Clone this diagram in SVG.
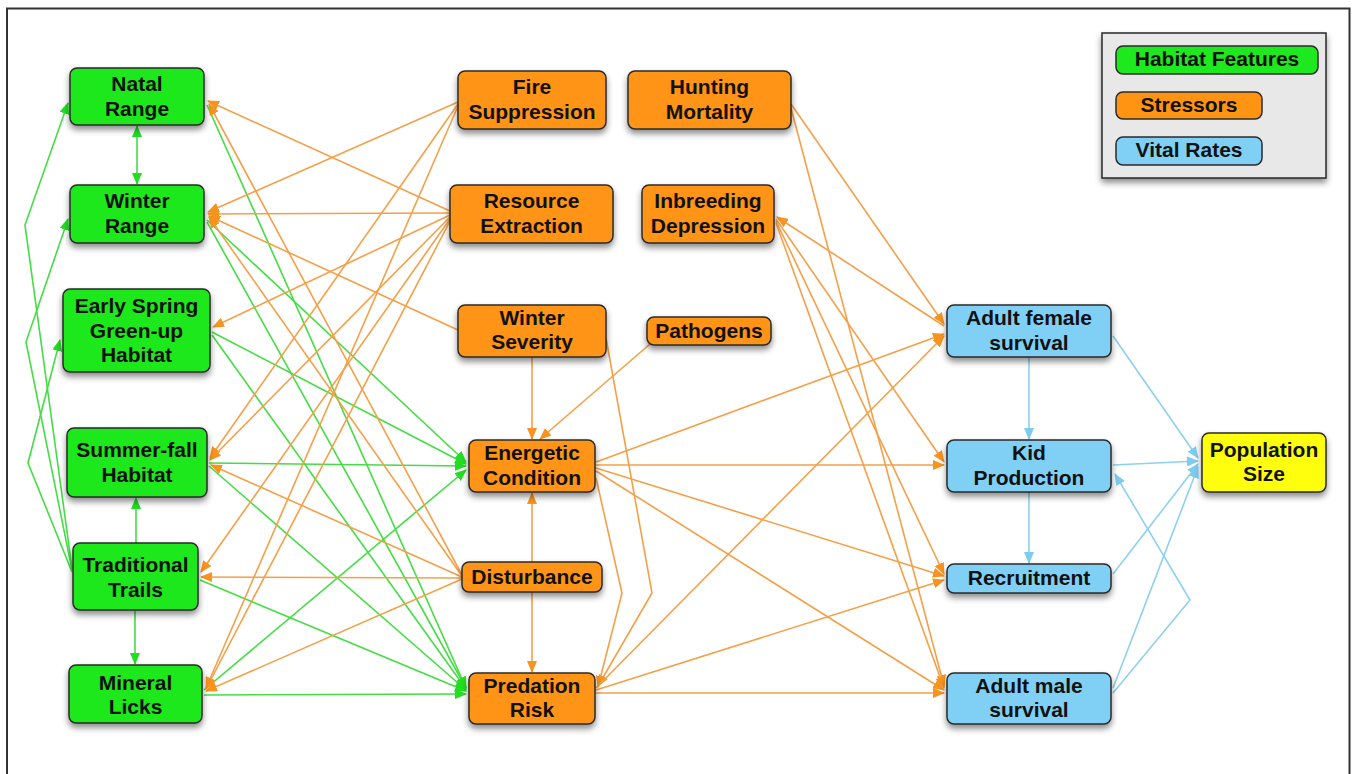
<svg xmlns="http://www.w3.org/2000/svg" width="1352" height="774" viewBox="0 0 1352 774">
<defs>
<filter id="sh" x="-20%" y="-20%" width="140%" height="170%"><feDropShadow dx="0" dy="4" stdDeviation="3" flood-color="#000" flood-opacity="0.45"/></filter>
<marker id="ao" viewBox="0 0 12 10" markerWidth="12" markerHeight="10" refX="11" refY="5" orient="auto-start-reverse" markerUnits="userSpaceOnUse"><path d="M0,0L12,5L0,10z" fill="#f7931e"/></marker>
<marker id="ag" viewBox="0 0 12 10" markerWidth="12" markerHeight="10" refX="11" refY="5" orient="auto-start-reverse" markerUnits="userSpaceOnUse"><path d="M0,0L12,5L0,10z" fill="#22dd22"/></marker>
<marker id="ab" viewBox="0 0 12 10" markerWidth="12" markerHeight="10" refX="11" refY="5" orient="auto-start-reverse" markerUnits="userSpaceOnUse"><path d="M0,0L12,5L0,10z" fill="#7ccbf0"/></marker>
</defs>
<style>
.n rect{stroke:#2a2a2a;stroke-width:1.5;filter:url(#sh)}
.g rect{fill:#1ee81e}
.o rect{fill:#ff9412}
.b rect{fill:#80cff5}
.y rect{fill:#ffff10}
text{font-family:"Liberation Sans",Arial,sans-serif;font-weight:bold;font-size:21px;fill:#111;text-anchor:middle}
.eo{stroke:#f4a048;stroke-width:1.6;fill:none;marker-end:url(#ao)}
.eg{stroke:#44dd44;stroke-width:1.6;fill:none;marker-end:url(#ag)}
.eb{stroke:#8dd0f2;stroke-width:1.6;fill:none;marker-end:url(#ab)}
</style>
<rect width="1352" height="774" fill="#ffffff"/>
<path d="M7,774 L7,8.5 L1349.5,8.5 L1349.5,774" fill="none" stroke="#333" stroke-width="2"/>

<g id="connectors">
<!-- green habitat -> energetic / predation -->
<path class="eg" d="M207,105 L466,688"/>
<path class="eg" d="M207,220 L466,462"/>
<path class="eg" d="M207,222 L466,688"/>
<path class="eg" d="M212,332 L466,464"/>
<path class="eg" d="M212,335 L466,689"/>
<path class="eg" d="M209,463 L466,466"/>
<path class="eg" d="M209,466 L466,690"/>
<path class="eg" d="M200,580 L466,691"/>
<path class="eg" d="M204,690 L466,470"/>
<path class="eg" d="M204,695 L466,694"/>
<!-- green left margin -->
<path class="eg" d="M72,568 L25,225 L68,103"/>
<path class="eg" d="M72,570 L26,342 L68,219"/>
<path class="eg" d="M72,572 L28,463 L60,340"/>
<path class="eg" d="M136,543 L136,498"/>
<path class="eg" d="M135,611 L135,664"/>
<path class="eg" d="M137,126 L137,184" marker-start="url(#ag)"/>
<!-- orange stressors -> habitat -->
<path class="eo" d="M458,102 L208,212"/>
<path class="eo" d="M458,104 L210,458"/>
<path class="eo" d="M458,106 L206,688"/>
<path class="eo" d="M450,211 L208,101"/>
<path class="eo" d="M450,213 L208,214"/>
<path class="eo" d="M450,215 L213,327"/>
<path class="eo" d="M450,217 L210,460"/>
<path class="eo" d="M450,219 L201,572"/>
<path class="eo" d="M450,221 L206,689"/>
<path class="eo" d="M458,330 L209,216"/>
<path class="eo" d="M462,575 L209,104"/>
<path class="eo" d="M462,576 L209,217"/>
<path class="eo" d="M462,577 L211,465"/>
<path class="eo" d="M462,578 L201,577"/>
<path class="eo" d="M462,579 L206,691"/>
<!-- orange among stressors -->
<path class="eo" d="M532,357 L532,439"/>
<path class="eo" d="M650,344 L540,439"/>
<path class="eo" d="M532,562 L532,493"/>
<path class="eo" d="M532,592 L532,672"/>
<path class="eo" d="M606,338 L652,593 L598,686"/>
<path class="eo" d="M596,478 L622,593 L598,687"/>
<!-- orange -> vital rates -->
<path class="eo" d="M791,104 L944,324"/>
<path class="eo" d="M791,108 L944,686"/>
<path class="eo" d="M944,326 L777,217"/>
<path class="eo" d="M776,219 L944,462"/>
<path class="eo" d="M776,221 L944,574"/>
<path class="eo" d="M776,223 L944,688"/>
<path class="eo" d="M596,462 L944,334"/>
<path class="eo" d="M596,465 L944,465"/>
<path class="eo" d="M596,468 L944,576"/>
<path class="eo" d="M596,471 L944,690"/>
<path class="eo" d="M596,688 L944,336"/>
<path class="eo" d="M596,690 L944,580"/>
<path class="eo" d="M596,693 L944,693"/>
<!-- blue -->
<path class="eb" d="M1029,357 L1029,439"/>
<path class="eb" d="M1029,492 L1029,563"/>
<path class="eb" d="M1113,336 L1198,458"/>
<path class="eb" d="M1113,465 L1198,461"/>
<path class="eb" d="M1113,574 L1198,464"/>
<path class="eb" d="M1113,688 L1198,467"/>
<path class="eb" d="M1113,693 L1190,600 L1115,474"/>
</g>

<g id="natal" class="n g"><rect x="70" y="68" width="134" height="57" rx="7"/><text x="137" y="91">Natal</text><text x="137" y="116">Range</text></g>
<g id="winter" class="n g"><rect x="70" y="185" width="134" height="58" rx="7"/><text x="137" y="208">Winter</text><text x="137" y="233">Range</text></g>
<g id="earlyspring" class="n g"><rect x="63" y="289" width="147" height="83" rx="7"/><text x="136.5" y="313">Early Spring</text><text x="136.5" y="338">Green-up</text><text x="136.5" y="362">Habitat</text></g>
<g id="summerfall" class="n g"><rect x="67" y="428" width="140" height="69" rx="7"/><text x="137" y="457">Summer-fall</text><text x="137" y="482">Habitat</text></g>
<g id="trails" class="n g"><rect x="73" y="543" width="125" height="67" rx="7"/><text x="135.5" y="572">Traditional</text><text x="135.5" y="597">Trails</text></g>
<g id="licks" class="n g"><rect x="69" y="665" width="133" height="58" rx="7"/><text x="135.5" y="690">Mineral</text><text x="135.5" y="714">Licks</text></g>

<g id="fire" class="n o"><rect x="458" y="71" width="148" height="58" rx="7"/><text x="532" y="94">Fire</text><text x="532" y="119">Suppression</text></g>
<g id="hunting" class="n o"><rect x="628" y="71" width="163" height="58" rx="7"/><text x="709.5" y="94">Hunting</text><text x="709.5" y="119">Mortality</text></g>
<g id="resource" class="n o"><rect x="450" y="185" width="163" height="58" rx="7"/><text x="531.5" y="208">Resource</text><text x="531.5" y="233">Extraction</text></g>
<g id="inbreeding" class="n o"><rect x="642" y="185" width="132" height="58" rx="7"/><text x="708" y="208">Inbreeding</text><text x="708" y="233">Depression</text></g>
<g id="wseverity" class="n o"><rect x="458" y="305" width="148" height="52" rx="7"/><text x="532" y="325">Winter</text><text x="532" y="349">Severity</text></g>
<g id="pathogens" class="n o"><rect x="647" y="317" width="124" height="28" rx="7"/><text x="709" y="338">Pathogens</text></g>
<g id="energetic" class="n o"><rect x="469" y="440" width="126" height="52" rx="7"/><text x="532" y="460">Energetic</text><text x="532" y="485">Condition</text></g>
<g id="disturbance" class="n o"><rect x="462" y="562" width="140" height="30" rx="7"/><text x="532" y="584">Disturbance</text></g>
<g id="predation" class="n o"><rect x="469" y="673" width="126" height="51" rx="7"/><text x="532" y="693">Predation</text><text x="532" y="717">Risk</text></g>

<g id="adultfemale" class="n b"><rect x="947" y="305" width="164" height="52" rx="7"/><text x="1029" y="325">Adult female</text><text x="1029" y="350">survival</text></g>
<g id="kid" class="n b"><rect x="947" y="440" width="164" height="52" rx="7"/><text x="1029" y="460">Kid</text><text x="1029" y="485">Production</text></g>
<g id="recruitment" class="n b"><rect x="947" y="564" width="164" height="29" rx="7"/><text x="1029" y="585">Recruitment</text></g>
<g id="adultmale" class="n b"><rect x="947" y="673" width="164" height="51" rx="7"/><text x="1029" y="693">Adult male</text><text x="1029" y="717">survival</text></g>
<g id="population" class="n y"><rect x="1202" y="433" width="124" height="59" rx="7"/><text x="1264" y="457">Population</text><text x="1264" y="481">Size</text></g>

<g id="legend">
<rect x="1102" y="33" width="224" height="145" fill="#e8e8e8" stroke="#2a2a2a" stroke-width="1.5" filter="url(#sh)"/>
<g class="n g"><rect x="1116" y="46" width="202" height="28" rx="7" style="filter:none"/><text x="1217" y="66">Habitat Features</text></g>
<g class="n o"><rect x="1116" y="92" width="146" height="27" rx="7" style="filter:none"/><text x="1189" y="112">Stressors</text></g>
<g class="n b"><rect x="1116" y="137" width="146" height="28" rx="7" style="filter:none"/><text x="1189" y="157">Vital Rates</text></g>
</g>
</svg>
